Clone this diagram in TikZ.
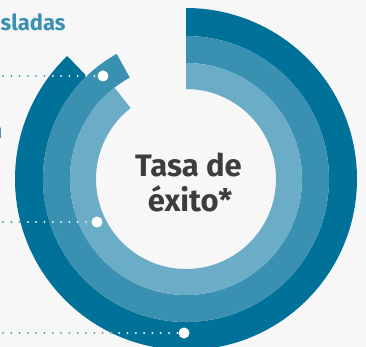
\documentclass[tikz,border=0pt]{standalone}
\usepackage{fontspec}
\setmainfont{Fira Sans}
\definecolor{ringdark}{HTML}{00729A}
\definecolor{ringmid}{HTML}{3A90B1}
\definecolor{ringlight}{HTML}{6BADC6}
\definecolor{textgray}{HTML}{3D3D3D}
\definecolor{bggray}{HTML}{F7F7F7}
\tikzset{
	leader/.style={line width=2pt, dash pattern=on 0pt off 8.3pt, line cap=round},
	enddot/.style={circle, fill=white, inner sep=0pt, minimum size=11pt},
	sidetext/.style={text=ringmid, font=\bfseries\fontsize{22}{26}\selectfont, inner sep=0pt},
	centertext/.style={text=textgray, font=\bfseries\fontsize{31}{35}\selectfont, inner sep=0pt}
}
\begin{document}
\begin{tikzpicture}[x=1pt, y=1pt]
			\clip (-186, -168) rectangle (180, 179);
			\fill[bggray] (-186, -168) rectangle (180, 179);
			% rings, from the top going clockwise
			\fill[ringdark] (134:171) arc[start angle=134, end angle=450, radius=171] -- (90:143) arc[start angle=450, end angle=134, radius=143] -- cycle;
			\fill[ringmid] (119:143) arc[start angle=119, end angle=450, radius=143] -- (90:116) arc[start angle=450, end angle=119, radius=116] -- cycle;
			\fill[ringlight] (128:116) arc[start angle=128, end angle=450, radius=116] -- (90:90) arc[start angle=450, end angle=128, radius=90] -- cycle;
			% end dots and leaders
			\node[enddot] (d1) at (-83, 103) {};
			\node[enddot] (d2) at (-89, -43) {};
			\node[enddot] (d3) at (-2, -154) {};
			\coordinate (s1) at (-183, 103);
			\coordinate (s2) at (-183, -43);
			\coordinate (s3) at (-183, -154);
			\draw[leader, ringmid] (s1) -- (d1);
			\draw[leader, ringmid] (s2) -- (d2);
			\draw[leader, ringmid] (s3) -- (d3);
			\begin{scope}
				\clip (0, 0) circle (171);
				\draw[leader, white] (s1) -- (d1);
				\draw[leader, white] (s2) -- (d2);
				\draw[leader, white] (s3) -- (d3);
			\end{scope}
			% cut labels on the left
			\node[sidetext, anchor=base west] (lab1) at (-185.5, 148.5) {sladas};
			\node[sidetext, anchor=base east] (lab2) at (-183.5, 40) {n};
			% centre
			\node[centertext, anchor=base] (tasa) at (2.5, 2) {Tasa de};
			\node[centertext, anchor=base] (exito) at (4, -33) {éxito*};
		\end{tikzpicture}
\end{document}
